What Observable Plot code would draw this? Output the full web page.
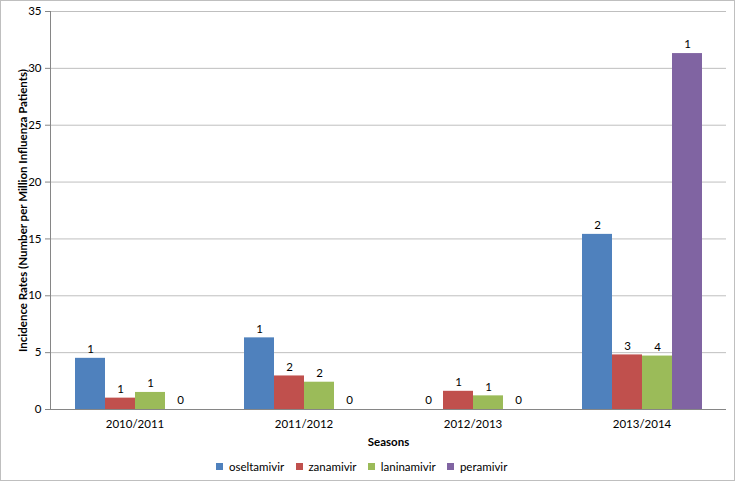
<!DOCTYPE html>
<html>
<head>
<meta charset="utf-8">
<script src="https://cdn.jsdelivr.net/npm/d3@7"></script>
<script src="https://cdn.jsdelivr.net/npm/@observablehq/plot@0.6"></script>
<style>
  body { margin: 0; background: #fff; }
  #wrap { position: relative; width: 735px; height: 481px; overflow: hidden; font-family: Lato, "Open Sans", sans-serif; }
  #border { position: absolute; left: 0; top: 0; width: 733px; height: 479px; border: 1px solid #bfbfbf; pointer-events: none; }
  #legend { position: absolute; left: 0; top: 450px; width: 735px; display: flex; justify-content: center; }
</style>
</head>
<body>
<div id="wrap"><div id="chart"></div><div id="legend"></div><div id="border"></div></div>
<script>
const seasons = ["2010/2011", "2011/2012", "2012/2013", "2013/2014"];
const drugs = ["oseltamivir", "zanamivir", "laninamivir", "peramivir"];
const oseltamivir = [4.5, 6.3, 0, 15.4];
const zanamivir = [1.0, 2.95, 1.6, 4.8];
const laninamivir = [1.5, 2.4, 1.2, 4.7];
const peramivir = [0, 0, 0, 31.3];
const oseltamivirCases = [1, 1, 0, 2];
const zanamivirCases = [1, 2, 1, 3];
const laninamivirCases = [1, 2, 1, 4];
const peramivirCases = [0, 0, 0, 1];
const colors = ["#4F81BD", "#C0504D", "#9BBB59", "#8064A2"];
const yTicks = [0, 5, 10, 15, 20, 25, 30, 35];

const valueSeries = [oseltamivir, zanamivir, laninamivir, peramivir];
const caseSeries = [oseltamivirCases, zanamivirCases, laninamivirCases, peramivirCases];
const data = [];
seasons.forEach((s, i) => drugs.forEach((d, j) => data.push({season: s, drug: d, value: valueSeries[j][i], cases: caseSeries[j][i]})));

const font = "Lato, 'Open Sans', sans-serif";
const chart = Plot.plot({
  width: 735,
  height: 450,
  marginTop: 11,
  marginLeft: 49,
  marginRight: 9,
  marginBottom: 41,
  style: {fontFamily: font, fontSize: "11px", color: "#000", background: "transparent"},
  fx: {domain: seasons, padding: 0, label: "Seasons", labelAnchor: "center"},
  x: {domain: drugs, paddingInner: 0, paddingOuter: 0.77, axis: null},
  y: {domain: [0, 35], label: "Incidence Rates (Number per Million Influenza Patients)", labelAnchor: "center"},
  color: {domain: drugs, range: colors},
  marks: [
    Plot.gridY(yTicks.slice(1), {stroke: "#bfbfbf", strokeOpacity: 1}),
    Plot.barY(data, {fx: "season", x: "drug", y: "value", fill: "drug"}),
    Plot.ruleY([0], {stroke: "#868686"}),
    Plot.frame({anchor: "left", facet: "super", stroke: "#868686"}),
    Plot.text(data, {fx: "season", x: "drug", y: "value", text: "cases", dy: -9, fontSize: 11.5, fill: "#000"}),
    Plot.axisY(yTicks, {tickSize: 5, tickPadding: 4, stroke: "#868686", fontSize: 11.5, label: "Incidence Rates (Number per Million Influenza Patients)", labelAnchor: "center", labelArrow: "none", labelOffset: 32}),
    Plot.axisFx({anchor: "bottom", tickSize: 0, tickPadding: 10, fontSize: 11.5, label: "Seasons", labelAnchor: "center", labelOffset: 36, labelArrow: "none"})
  ]
});
// bold axis titles
chart.querySelectorAll("[aria-label='y-axis label'] text, [aria-label='fx-axis label'] text").forEach(t => t.setAttribute("font-weight", "bold"));
document.getElementById("chart").appendChild(chart);

const legend = Plot.legend({
  color: {domain: drugs, range: colors},
  legend: "swatches",
  swatchSize: 7,
  style: {fontFamily: font, fontSize: "11.5px", color: "#000"}
});
document.getElementById("legend").appendChild(legend);
</script>
</body>
</html>
